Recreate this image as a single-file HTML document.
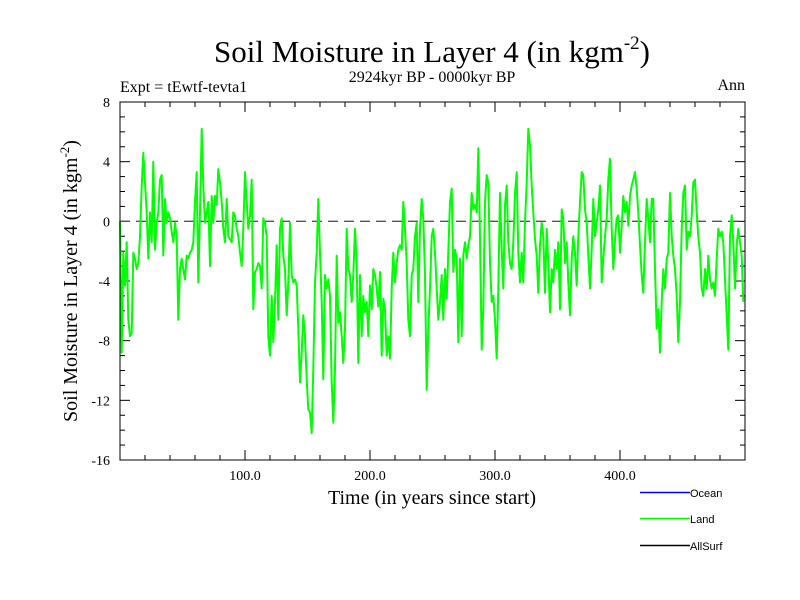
<!DOCTYPE html>
<html><head><meta charset="utf-8"><style>
body{margin:0;background:#fff;}
svg{display:block;font-family:"Liberation Serif",serif;}
</style></head><body>
<svg id="chart" width="800" height="600" viewBox="0 0 800 600">
<text x="432" y="62" font-size="31" text-anchor="middle">Soil Moisture in Layer 4 (in kgm<tspan font-size="19" dy="-13">-2</tspan><tspan dy="13">)</tspan></text>
<text x="432" y="82" font-size="16" text-anchor="middle">2924kyr BP - 0000kyr BP</text>
<text x="120" y="92" font-size="16">Expt = tEwtf-tevta1</text>
<text x="745" y="90" font-size="16" text-anchor="end">Ann</text>
<text x="432" y="504" font-size="20" text-anchor="middle">Time (in years since start)</text>
<text transform="translate(77,281) rotate(-90)" font-size="20" text-anchor="middle">Soil Moisture in Layer 4 (in kgm<tspan font-size="13" dy="-8">-2</tspan><tspan dy="8">)</tspan></text>
<g id="axes"></g>
<g id="series"></g>
<rect x="120" y="102" width="625" height="358" fill="none" stroke="#000" stroke-width="1"/>
<g font-family="Liberation Sans, sans-serif" font-size="11">
<g><line x1="640" y1="492.5" x2="690" y2="492.5" stroke="#0000ff" stroke-width="1.5"/><text x="690" y="497">Ocean</text></g>
<g><line x1="640" y1="518.5" x2="690" y2="518.5" stroke="#00ff00" stroke-width="1.5"/><text x="690" y="523">Land</text></g>
<g><line x1="640" y1="545.5" x2="690" y2="545.5" stroke="#000" stroke-width="1.5"/><text x="690" y="550">AllSurf</text></g>
</g>
</svg>
<script>
const xTickValues=[100,200,300,400];
const xTickLabels=["100.0","200.0","300.0","400.0"];
const yTickValues=[8,4,0,-4,-8,-12,-16];
const yTickLabels=["8","4","0","-4","-8","-12","-16"];
const yearStep=4/3;
const landPart1=[0,-8.8,-2.1,-4.3,-1.4,-6.6,-7.7,-7.5,-2.1,-2.5,-3.2,-2.8,-1.0,2.4,4.6,2.6,0.6,-2.5,0.6,-1.4,4.0,-1.9,-0.1,0.6,2.8,3.1,-2.3,1.5,-0.1,0.6,0.2,-0.7,-1.4,-0.1,-1.0,-6.6,-3.2,-2.5,-3.2,-3.9,-2.3,-2.5,-2.1,-1.9,-1.4,1.3,3.3,-4.1,0.6,6.2,2.4,-0.1,0.6,1.3,-3.0,1.7,-0.1,1.7,1.1,3.5,2.6,1.3,-0.5,-1.4,1.5,-1.0,-1.2,-1.4,0.6,0.4,-0.5,-1.0,-2.1,-3.0,-0.5,3.3,1.3,-0.5,0.4,2.8,-5.9,-3.4,-3.2,-2.8,-3.0,-4.5,0.2,-0.1,-1.0,-7.7,-9.0,-5.0,-8.1,-5.4,-1.6,-6.6];
const landPart2=[-0.5,0.2,-2.3,-3.2,-6.3,-4.1,-0.1,-3.6,-4.1,-3.9,-4.3,-7.2,-10.8,-8.8,-6.3,-7.7,-10.6,-12.6,-12.8,-14.2,-9.9,-4.1,-2.1,1.5,-2.1,-5.4,-10.6,-3.6,-4.5,-3.9,-5.0,-10.8,-13.5,-9.9,-2.3,-6.8,-6.1,-7.7,-9.5,-7.2,-0.5,-3.2,-3.6,-5.4,-3.6,-0.5,-2.8,-9.5,-3.6,-7.7,-5.0,-6.1,-5.4,-7.7,-4.3,-5.9,-3.2,-3.6,-4.5,-5.7,-3.4,-9.0,-5.2,-5.9,-9.0,-7.7,-9.2,-4.5,-2.1,-4.1,-2.8,-1.9,-1.6,-1.9,1.3,-0.5,-2.8,-6.6,-7.7,-3.6,-3.2,-1.0,-0.1,-5.4,-0.5,1.5,0.2,-3.6,-11.3,-7.2,-4.5,-1.0,-0.5];
const landPart3=[-2.1,-4.5,-6.6,-5.4,-3.6,-6.6,-3.2,-5.2,-2.1,1.3,2.2,-3.4,-1.9,-2.5,-8.1,-2.5,-7.7,-2.3,-1.4,-2.5,-1.6,-1.0,1.9,0.8,1.1,0.6,4.9,-1.0,-8.6,-5.9,1.3,3.1,2.6,-2.8,-5.4,-5.0,-6.6,-9.2,-4.5,1.9,-1.9,-4.5,1.1,2.4,-1.4,-2.8,-3.2,-1.4,1.9,3.3,-2.1,-4.1,-2.1,-4.1,-0.1,2.6,6.2,5.1,2.4,0.6,-1.2,-2.3,-4.8,-1.6,-0.1,-1.0,-4.8,-0.5,-2.8,-6.1,-3.2,-4.1,-1.9,-3.2,-1.4,-5.9,0.8,0.2,-2.8,-1.4,-4.1,-6.3,-2.5,-1.0,-2.1,-4.3,-1.0,1.3,3.3,3.1,0.8,-0.1,-2.3,-4.5];
const landPart4=[-1.9,1.5,-1.0,-0.1,0.8,2.4,-4.1,-2.5,-1.0,0.2,2.8,4.2,-0.5,-3.2,-1.2,0.2,0.4,-2.1,-0.3,1.7,0.6,1.3,-0.3,1.7,2.4,2.8,3.3,2.2,0.6,-1.6,-3.6,-4.8,-1.4,1.5,0.2,-1.4,1.5,1.5,-3.2,-7.2,-5.9,-8.8,-5.4,-3.2,-4.5,-2.5,-2.1,1.9,-1.0,-2.3,-3.2,-5.0,-8.1,-5.4,-0.5,1.9,2.4,-1.9,-0.7,-1.0,0.4,2.6,2.8,0.6,-1.0,-2.1,-4.5,-5.0,-3.2,-4.5,-2.3,-3.9,-4.5,-4.1,-5.0,-2.5,-0.5,-1.0,-0.7,-1.4,-3.9,-6.3,-8.6,-1.0,0.4,-1.4,-4.5,-1.6,-0.5,-1.4,-2.3,-5.4];
const landValues=landPart1.concat(landPart2,landPart3,landPart4);

const NS="http://www.w3.org/2000/svg";
const L=120,R=745,T=102,B=460;
const xMin=0,xMax=500,yMin=-16,yMax=8;
function xs(v){return L+(v-xMin)/(xMax-xMin)*(R-L);}
function ys(v){return B-(v-yMin)/(yMax-yMin)*(B-T);}
function mk(tag,attrs){const e=document.createElementNS(NS,tag);for(const k in attrs)e.setAttribute(k,attrs[k]);return e;}
const axes=document.getElementById('axes');
for(let v=yMin;v<=yMax;v++){
  const major=(v%4===0);const len=major?10:5;const y=ys(v);
  const t1=mk('line',{x1:L,y1:y,x2:L+len,y2:y,stroke:'#000'});
  
  
  axes.appendChild(t1);
  const t2=mk('line',{x1:R,y1:y,x2:R-len,y2:y,stroke:'#000'});
  
  
  axes.appendChild(t2);
}
for(let v=xMin;v<=xMax;v+=20){
  const major=(v%100===0);const len=major?10:5;const x=xs(v);
  const t1=mk('line',{x1:x,y1:B,x2:x,y2:B-len,stroke:'#000'});
  
  
  axes.appendChild(t1);
  const t2=mk('line',{x1:x,y1:T,x2:x,y2:T+len,stroke:'#000'});
  
  
  axes.appendChild(t2);
}
yTickValues.forEach((v,i)=>{
  const t=mk('text',{x:110,y:ys(v)+5,'text-anchor':'end','font-size':14});
  t.textContent=yTickLabels[i];
  
  
  axes.appendChild(t);
});
xTickValues.forEach((v,i)=>{
  const t=mk('text',{x:xs(v),y:B+20,'text-anchor':'middle','font-size':14});
  t.textContent=xTickLabels[i];
  
  
  axes.appendChild(t);
});
const series=document.getElementById('series');
const zero=mk('line',{x1:L,y1:ys(0),x2:R,y2:ys(0),stroke:'#555','stroke-width':1.3,'stroke-dasharray':'10,6'});


series.appendChild(zero);
const pts=landValues.map((v,i)=>xs(i*yearStep).toFixed(1)+','+ys(v).toFixed(1)).join(' ');
const line=mk('polyline',{points:pts,fill:'none',stroke:'#00ff00','stroke-width':2,'stroke-linejoin':'round'});


series.appendChild(line);
</script>
</body></html>
